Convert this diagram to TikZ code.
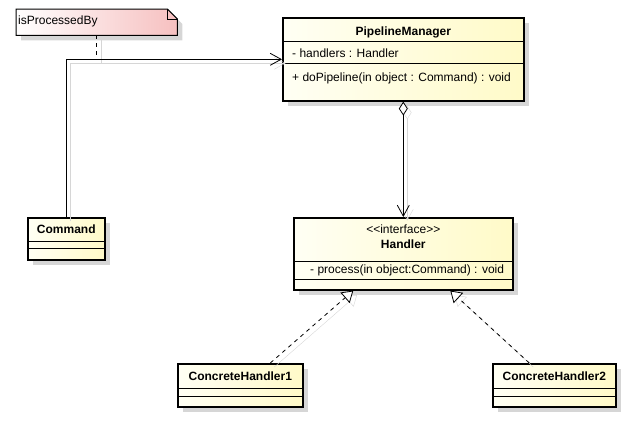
\documentclass[tikz,border=0pt]{standalone}
\usepackage{fontspec}
\setmainfont{Liberation Sans}[Ligatures=TeXOff]
\usetikzlibrary{arrows.meta,positioning,shadows,backgrounds}
\definecolor{classlight}{RGB}{255,255,244}
\definecolor{classdark}{RGB}{255,250,200}
\definecolor{notedark}{RGB}{246,192,192}
\definecolor{shade}{RGB}{214,214,214}
\tikzset{
  umlclass/.style={
    draw,
    line width=1.6pt,
    left color=classlight,
    right color=classdark,
    anchor=north west,
    inner sep=0pt,
    drop shadow={shadow xshift=5pt, shadow yshift=-5pt, fill=shade, opacity=1}
  },
  classname/.style={font=\fontsize{12}{14}\selectfont\bfseries, inner sep=0pt, text height=9pt, text depth=3pt},
  member/.style={font=\fontsize{12}{14}\selectfont, inner sep=0pt, text height=9pt, text depth=3pt},
  divider/.style={line width=0.8pt},
  linkshadow/.style={preaction={draw=shade, solid, transform canvas={xshift=4pt, yshift=-4pt}}},
  assoc/.style={-{Straight Barb[length=11pt, width=12pt]}, line width=0.8pt, linkshadow},
  aggr/.style={{Diamond[fill=white, length=14pt, width=9pt]}-{Straight Barb[length=11pt, width=12pt]}, line width=0.8pt, linkshadow},
  realize/.style={-{Triangle[fill=white, length=11pt, width=14pt]}, dash pattern=on 4pt off 4pt, line width=0.8pt, linkshadow},
  notelink/.style={dash pattern=on 4pt off 4pt, line width=0.8pt, linkshadow}
}

\begin{document}
\begin{tikzpicture}[x=1pt, y=-1pt]
  \useasboundingbox (0,0) rectangle (624,421);

  \node[member, anchor=north west, minimum width=161pt, minimum height=26pt, text width=157pt, inner xsep=2pt, text depth=5pt, align=left] (note) at (16,9) {isProcessedBy};
  \begin{scope}[on background layer]
    \path[draw, line width=1pt, left color=white, right color=notedark, drop shadow={shadow xshift=5pt, shadow yshift=-5pt, fill=shade, opacity=1}]
      (note.north west) -- ([xshift=-10pt]note.north east) -- ([yshift=-10pt]note.north east) -- (note.south east) -- (note.south west) -- cycle;
    \draw[line width=1pt] ([xshift=-10pt]note.north east) |- ([yshift=-10pt]note.north east);
  \end{scope}

  \node[umlclass, minimum width=241pt, minimum height=83pt] (pm) at (282,17) {};
  \node[classname, below=9pt of pm.north] (pm-name) {PipelineManager};
  \node[member, below right=31pt and 10pt of pm.north west] (pm-attr) {- handlers : Handler};
  \node[member, below right=55pt and 10pt of pm.north west] (pm-op) {+ doPipeline(in object : Command) : void};
  \draw[divider] ([yshift=-24pt]pm.north west) -- ([yshift=-24pt]pm.north east);
  \draw[divider] ([yshift=-46pt]pm.north west) -- ([yshift=-46pt]pm.north east);

  \node[umlclass, minimum width=77pt, minimum height=42pt] (cmd) at (27,217) {};
  \node[classname, below=7pt of cmd.north] (cmd-name) {Command};
  \draw[divider] ([yshift=-24pt]cmd.north west) -- ([yshift=-24pt]cmd.north east);
  \draw[divider] ([yshift=-31pt]cmd.north west) -- ([yshift=-31pt]cmd.north east);

  \node[umlclass, minimum width=219pt, minimum height=72pt] (hd) at (293,217) {};
  \node[member, below=7pt of hd.north] (hd-stereo) {<<interface>>};
  \node[classname, below=22pt of hd.north] (hd-name) {Handler};
  \node[member, below right=47pt and 17pt of hd.north west] (hd-op) {- process(in object:Command) : void};
  \draw[divider] ([yshift=-44pt]hd.north west) -- ([yshift=-44pt]hd.north east);
  \draw[divider] ([yshift=-62pt]hd.north west) -- ([yshift=-62pt]hd.north east);

  \node[umlclass, minimum width=125pt, minimum height=43pt] (ch1) at (177,363) {};
  \node[classname, below=8pt of ch1.north] (ch1-name) {ConcreteHandler1};
  \draw[divider] ([yshift=-25pt]ch1.north west) -- ([yshift=-25pt]ch1.north east);
  \draw[divider] ([yshift=-33pt]ch1.north west) -- ([yshift=-33pt]ch1.north east);

  \node[umlclass, minimum width=123pt, minimum height=43pt] (ch2) at (492,363) {};
  \node[classname, below=8pt of ch2.north] (ch2-name) {ConcreteHandler2};
  \draw[divider] ([yshift=-25pt]ch2.north west) -- ([yshift=-25pt]ch2.north east);
  \draw[divider] ([yshift=-33pt]ch2.north west) -- ([yshift=-33pt]ch2.north east);

  \draw[notelink] (note.south) -- (note.south |- pm.west);
  \draw[assoc] (cmd.north) |- (pm.west);
  \draw[aggr] (pm.south) -- (hd.north);
  \draw[realize] ([xshift=30pt]ch1.north) -- ([xshift=-50pt]hd.south);
  \draw[realize] ([xshift=-25pt]ch2.north) -- ([xshift=47pt]hd.south);
\end{tikzpicture}
\end{document}
